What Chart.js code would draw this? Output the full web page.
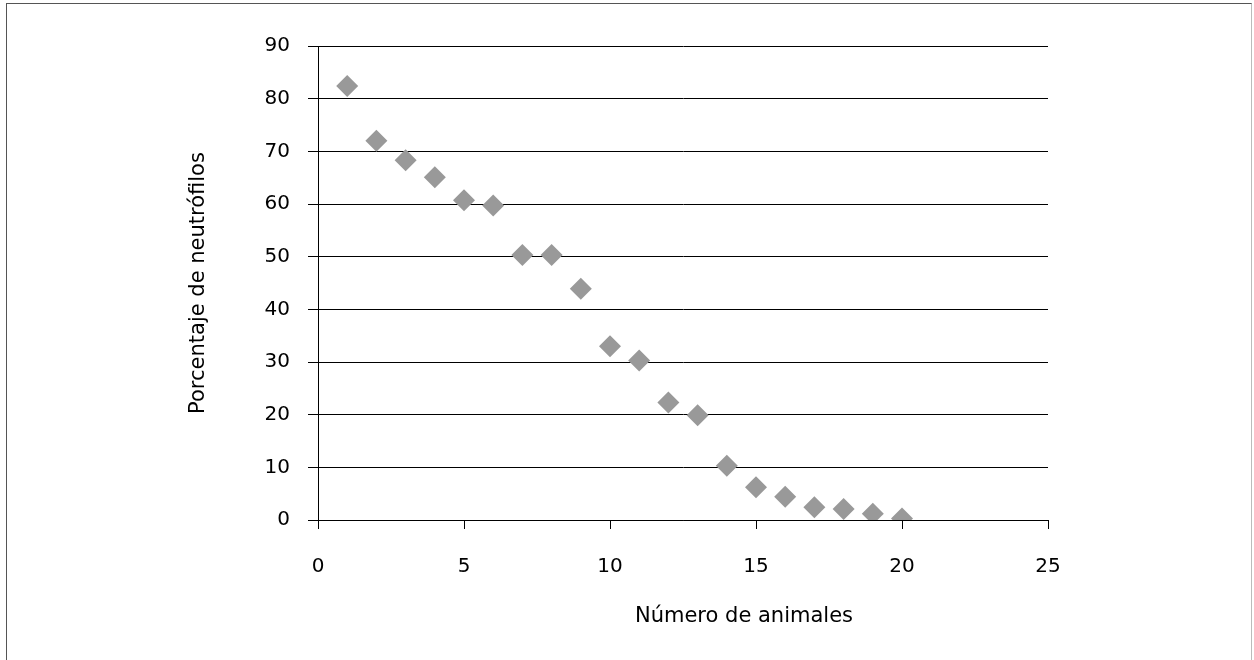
<!DOCTYPE html>
<html>
<head>
<meta charset="utf-8">
<script src="https://cdn.jsdelivr.net/npm/chart.js@4.4.1/dist/chart.umd.min.js"></script>
<style>
  html, body { margin: 0; padding: 0; background: #fff; overflow: hidden; }
  #frame {
    position: absolute; left: 6px; top: 3px; width: 1246px; height: 680px;
    border: 1px solid #555; border-right-color: #bbb; box-sizing: border-box;
  }
  #wrap { position: absolute; left: 0; top: 0; width: 1254px; height: 660px; }
</style>
</head>
<body>
<div id="frame"></div>
<div id="wrap"><canvas id="myChart"></canvas></div>
<script>
const animales = [1, 2, 3, 4, 5, 6, 7, 8, 9, 10, 11, 12, 13, 14, 15, 16, 17, 18, 19, 20];
const neutrofilos = [82.4, 72.0, 68.3, 65.1, 60.7, 59.7, 50.3, 50.3, 43.9, 33.0, 30.3, 22.3, 19.9, 10.3, 6.2, 4.4, 2.4, 2.1, 1.2, 0.3];
const xTitle = 'Número de animales';
const yTitle = 'Porcentaje de neutrófilos';

const TICK_FONT = { family: 'DejaVu Sans', size: 20 };
const TITLE_FONT = { family: 'DejaVu Sans', size: 21 };

// x-axis title sits right of the plot centre, like the original
const xTitlePlugin = {
  id: 'xTitle',
  afterDraw(chart) {
    const ctx = chart.ctx;
    ctx.save();
    ctx.font = TITLE_FONT.size + 'px ' + TITLE_FONT.family;
    ctx.fillStyle = '#000';
    ctx.textAlign = 'center';
    ctx.textBaseline = 'middle';
    ctx.fillText(xTitle, 744, 617);
    ctx.restore();
  }
};

const points = animales.map((x, i) => ({ x: x, y: neutrofilos[i] }));

new Chart(document.getElementById('myChart'), {
  type: 'scatter',
  data: {
    datasets: [{
      data: points,
      pointStyle: 'rectRot',
      pointRadius: 11,
      pointHoverRadius: 11,
      pointBorderWidth: 0,
      pointBackgroundColor: '#999999',
      pointBorderColor: '#999999'
    }]
  },
  options: {
    responsive: true,
    maintainAspectRatio: false,
    animation: false,
    events: [],
    layout: { padding: { left: 186, right: 206, top: 46, bottom: 0 } },
    plugins: { legend: { display: false }, tooltip: { enabled: false } },
    scales: {
      x: {
        type: 'linear', min: 0, max: 25,
        ticks: { stepSize: 5, color: '#000', font: TICK_FONT, padding: 26, maxRotation: 0 },
        grid: { drawOnChartArea: false, color: '#000', tickLength: 9, tickColor: '#000' },
        border: { color: '#000', width: 1 },
        afterFit(scale) { scale.height = 140; }
      },
      y: {
        min: 0, max: 90,
        ticks: { stepSize: 10, color: '#000', font: TICK_FONT, padding: 18 },
        grid: { color: '#000', tickLength: 10, tickColor: '#000', lineWidth: 1 },
        border: { color: '#000', width: 1 },
        title: { display: true, text: yTitle, color: '#000', font: TITLE_FONT, padding: 0 },
        afterFit(scale) { scale.width = 132; }
      }
    }
  },
  plugins: [xTitlePlugin]
});
</script>
</body>
</html>
